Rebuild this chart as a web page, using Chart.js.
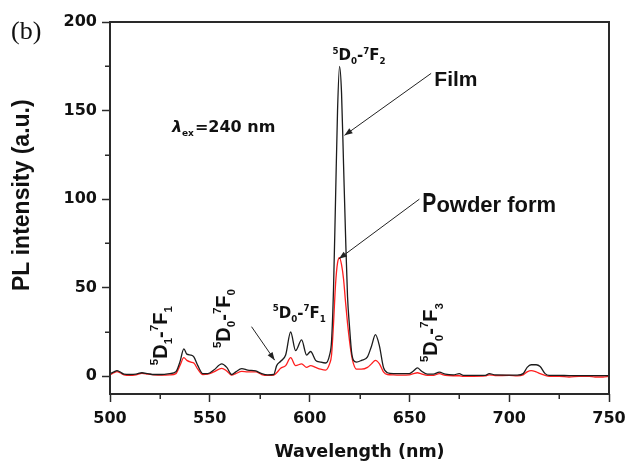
<!DOCTYPE html>
<html><head><meta charset="utf-8">
<script src="https://cdn.jsdelivr.net/npm/chart.js@4.4.0/dist/chart.umd.min.js"></script>
<style>html,body{margin:0;padding:0;background:#fff;}#wrap{width:626px;height:464px;}</style>
</head><body><div id="wrap"><canvas id="c" width="626" height="464"></canvas></div>
<script>
// ---- data ----
const wavelength = [500,502,503.5,505,507,510,513,516,519,522,526,530,533,535,537,538.5,540.5,542,544,546.5,549,552,556,558.5,561,563,566,569,573,576,579,582,583.5,585.5,588,590.5,593,596,598.5,600.5,603,605.5,608,610,611,612,613,614,615,616,617,618,619,620,621,622,623.5,626,629,631,633,635,637,639,642,646,650,652,654,656,659,662,665,668,672,675,677,682,688,690,693,700,704,707,709,711,713.5,715.5,718,720,725,730,735,740,743,747,750];
const filmIntensity = [1.5,2.5,3.2,2.5,1.2,1,1.2,2,1.5,1,1,1.5,2.5,8,15.5,12.5,12,11,6,1.5,1.5,3.5,7,5,1,2.5,4.3,3.5,3,1.5,0.8,1,6,8.5,12,25,14.5,20.5,12,14,9,8,7.5,12,20,50,100,150,175,160,120,80,45,28,14,9,8,9,11,17,23.5,17,5,2,1.5,1.5,1.5,3,4.7,3,1.2,1.2,2.3,1.2,0.8,1.5,0.5,0.5,0.5,1.5,0.8,0.7,0.6,1.5,5,6.5,6.5,5.5,1.5,0.5,0.5,0.4,0.4,0.4,0.4,0.4,0.4];
const powderIntensity = [0.8,2,2.6,2,0.8,0.5,0.8,1.6,1.2,0.8,0.6,0.8,1.5,6,10.5,9,8,7.5,4,1,1.2,2.5,4.5,3,0.6,1.5,2.8,2.5,2.5,1,0.5,0.6,2,4.5,6,10.5,6,7,5,6,5,4,3.5,7,12,30,52,64,67,63,55,42,30,20,12,7,4,4,5,7,9,7,2.5,1,0.8,0.6,0.8,1.5,2,1.3,0.5,0.5,1.5,0.5,0.3,0.3,0,0,0.2,0.8,0.4,0.5,0.2,0.8,2.5,3.2,2.5,1.5,0.5,0,0,-0.4,0,0,-0.4,-0.4,0];
const seriesNames = ['Film','Powder form'];
const xTicks = [500,550,600,650,700,750];
const xMinorTicks = [525,575,625,675,725];
const yTicks = [0,50,100,150,200];
const yMinorTicks = [25,75,125,175];
const xLabel = 'Wavelength (nm)';
const yLabel = 'PL intensity (a.u.)';
const panelLabel = '(b)';
const excitationValue = '=240 nm';

// ---- annotations (anchored in data units) ----
function trans(a, b){ return [{t:'5',k:'sup'},{t:'D'},{t:a,k:'sub'},{t:'-'},{t:'7',k:'sup'},{t:'F'},{t:b,k:'sub'}]; }
const transitionLabels = [
  {segs: trans('1','1'), at:[528.5, 6.25], rot:true},
  {segs: trans('0','0'), at:[560, 15.9], rot:true},
  {segs: trans('0','3'), at:[664, 8], rot:true},
  {segs: trans('0','1'), at:[581.5, 33], rot:false},
  {segs: trans('0','2'), at:[611.5, 178.4], rot:false}
];
const arrows = [
  {from:[660.9,171], to:[617.5,136]},
  {from:[655,100], to:[614.7,66.3]},
  {from:[570.9,28], to:[582.5,9.1]}
];

const TXT = '#111';
function drawRich(ctx, segs, size, family){
  let x = 0;
  for (const s of segs){
    let fs = size, dy = 0;
    if (s.k === 'sup'){ fs = size*0.58; dy = -size*0.45; }
    else if (s.k === 'sub'){ fs = size*0.58; dy = size*0.28; }
    ctx.font = 'bold ' + fs + 'px ' + family;
    ctx.fillText(s.t, x, dy);
    x += ctx.measureText(s.t).width;
  }
}
function drawArrow(ctx, x1, y1, x2, y2){
  ctx.beginPath(); ctx.moveTo(x1,y1); ctx.lineTo(x2,y2); ctx.stroke();
  const a = Math.atan2(y2-y1, x2-x1), L = 8, W = 3;
  ctx.beginPath();
  ctx.moveTo(x2,y2);
  ctx.lineTo(x2 - L*Math.cos(a) + W*Math.sin(a), y2 - L*Math.sin(a) - W*Math.cos(a));
  ctx.lineTo(x2 - L*Math.cos(a) - W*Math.sin(a), y2 - L*Math.sin(a) + W*Math.cos(a));
  ctx.closePath(); ctx.fill();
}

const decor = {
  id: 'decor',
  afterDraw(chart){
    const ctx = chart.ctx;
    const area = chart.chartArea;
    const xs = chart.scales.x, ys = chart.scales.y;
    const px = v => xs.getPixelForValue(v), py = v => ys.getPixelForValue(v);
    ctx.save();
    // frame as filled bars
    ctx.fillStyle = '#2a2a2a';
    const L = Math.round(area.left), R = Math.round(area.right), T = Math.round(area.top), B = Math.round(area.bottom);
    ctx.fillRect(L - 1, T - 1, R - L + 2, 2);
    ctx.fillRect(L - 1, B - 1, R - L + 2, 2);
    ctx.fillRect(L - 1, T - 1, 2, B - T + 2);
    ctx.fillRect(R - 1, T - 1, 2, B - T + 2);
    // minor ticks
    xMinorTicks.forEach(v => { const X = Math.round(px(v)); ctx.fillRect(X - 0.5, B, 1.5, 5); });
    yMinorTicks.forEach(v => { const Y = Math.round(py(v)); ctx.fillRect(L - 5, Y - 0.5, 5, 1.5); });
    // arrows
    ctx.strokeStyle = '#222'; ctx.fillStyle = '#222'; ctx.lineWidth = 1;
    arrows.forEach(r => drawArrow(ctx, px(r.from[0]), py(r.from[1]), px(r.to[0]), py(r.to[1])));
    // transition labels
    ctx.fillStyle = TXT; ctx.textBaseline = 'alphabetic'; ctx.textAlign = 'left';
    transitionLabels.forEach(l => {
      ctx.save();
      ctx.translate(px(l.at[0]), py(l.at[1]));
      if (l.rot){ ctx.rotate(-Math.PI/2); drawRich(ctx, l.segs, 20, '"Liberation Sans", Arial, sans-serif'); }
      else drawRich(ctx, l.segs, 15, '"DejaVu Sans", sans-serif');
      ctx.restore();
    });
    // Film
    ctx.font = 'bold 21px "Liberation Sans", Arial, sans-serif';
    ctx.fillText(seriesNames[0], px(662.5), py(163.6));
    // Powder form
    let X0 = px(656.5), Y0 = py(92.6);
    ctx.font = 'bold 28px "Liberation Sans", Arial, sans-serif';
    const P = seriesNames[1].charAt(0);
    ctx.save(); ctx.translate(X0, Y0); ctx.scale(0.75, 1); ctx.fillText(P, 0, 0); ctx.restore();
    const pw = ctx.measureText(P).width * 0.75;
    ctx.font = 'bold 22px "Liberation Sans", Arial, sans-serif';
    ctx.fillText(seriesNames[1].slice(1), X0 + pw, Y0);
    // lambda_ex
    X0 = px(531); Y0 = py(138);
    ctx.font = 'italic bold 16px "DejaVu Sans", sans-serif';
    ctx.fillText('\u03BB', X0, Y0);
    let w = ctx.measureText('\u03BB').width;
    ctx.font = 'bold 9px "DejaVu Sans", sans-serif';
    ctx.fillText('ex', X0 + w, Y0 + 4);
    w += ctx.measureText('ex').width + 1;
    ctx.font = 'bold 16px "DejaVu Sans", sans-serif';
    ctx.fillText(excitationValue, X0 + w, Y0);
    // panel label
    ctx.font = '26px "Liberation Serif", "Times New Roman", serif';
    ctx.fillText(panelLabel, 11, 39);
    ctx.restore();
  }
};

const tickFont = {family: '"DejaVu Sans", sans-serif', weight: 'bold', size: 16};
new Chart(document.getElementById('c'), {
  type: 'line',
  data: {
    datasets: [
      {label: seriesNames[0], data: wavelength.map((v,i)=>({x:v, y:filmIntensity[i]})), borderColor: '#1c1c1c', borderWidth: 1.3, pointRadius: 0, cubicInterpolationMode: 'monotone', fill: false},
      {label: seriesNames[1], data: wavelength.map((v,i)=>({x:v, y:powderIntensity[i]})), borderColor: '#ff1e1e', borderWidth: 1.3, pointRadius: 0, cubicInterpolationMode: 'monotone', fill: false}
    ]
  },
  options: {
    responsive: false, animation: false, devicePixelRatio: 1,
    layout: {padding: {top: 22, right: 17, left: 0, bottom: 0}},
    plugins: {legend: {display: false}, tooltip: {enabled: false}},
    scales: {
      x: {
        type: 'linear', min: 500, max: 750,
        afterBuildTicks: s => { s.ticks = xTicks.map(v => ({value: v})); },
        afterFit: s => { s.height = 70; s.paddingLeft = 0; s.paddingRight = 0; },
        grid: {drawOnChartArea: false, drawTicks: true, tickLength: 8, tickColor: '#2a2a2a', tickWidth: 1.5},
        border: {display: false},
        ticks: {font: tickFont, color: TXT, padding: 7, maxRotation: 0, autoSkip: false},
        title: {display: true, text: xLabel, color: TXT, font: {family: '"DejaVu Sans", sans-serif', weight: 'bold', size: 17.5}, padding: {top: 0, bottom: 1}}
      },
      y: {
        type: 'linear', min: -10, max: 200,
        afterBuildTicks: s => { s.ticks = yTicks.map(v => ({value: v})); },
        afterFit: s => { s.width = 110; s.paddingTop = 0; s.paddingBottom = 0; },
        grid: {drawOnChartArea: false, drawTicks: true, tickLength: 8, tickColor: '#2a2a2a', tickWidth: 1.5},
        border: {display: false},
        ticks: {font: tickFont, color: TXT, padding: 5, autoSkip: false},
        title: {display: true, text: '    ' + yLabel, color: TXT, font: {family: '"Liberation Sans", Arial, sans-serif', weight: 'bold', size: 23}, padding: {top: 9, bottom: 0}}
      }
    }
  },
  plugins: [decor]
});
</script></body></html>
